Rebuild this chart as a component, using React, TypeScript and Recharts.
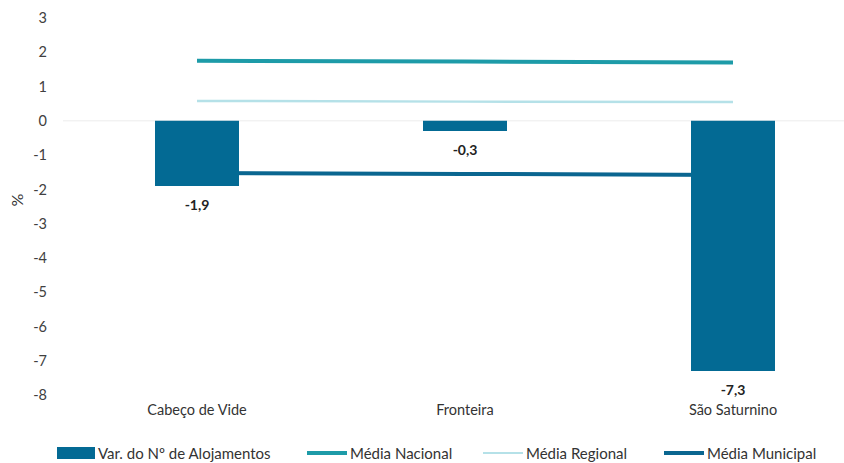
import React from 'react'
import {
  ComposedChart,
  Bar,
  Line,
  XAxis,
  YAxis,
  ReferenceLine,
  Legend,
  LabelList,
} from 'recharts'

const categories = ['Cabeço de Vide', 'Fronteira', 'São Saturnino']
const varAlojamentos = [-1.9, -0.3, -7.3]
const mediaNacional = [1.75, 1.73, 1.7]
const mediaRegional = [0.58, 0.56, 0.55]
const mediaMunicipal = [-1.52, -1.55, -1.58]
const yTicks = [-8, -7, -6, -5, -4, -3, -2, -1, 0, 1, 2, 3]

const FONT = 'Lato, "Open Sans", sans-serif'

const SERIES = [
  { key: 'var', name: 'Var. do Nº de Alojamentos', color: '#036a94', type: 'rect', left: 57 },
  { key: 'nac', name: 'Média Nacional', color: '#1d9ba8', type: 'line', width: 4, left: 307 },
  { key: 'reg', name: 'Média Regional', color: '#b5e1e8', type: 'line', width: 2, left: 483 },
  { key: 'mun', name: 'Média Municipal', color: '#0a6690', type: 'line', width: 4, left: 664 },
]

const data = categories.map((c, i) => ({
  name: c,
  var: varAlojamentos[i],
  nac: mediaNacional[i],
  reg: mediaRegional[i],
  mun: mediaMunicipal[i],
}))

const fmt = (v: any) => String(v).replace('.', ',')

const LegendContent = () => (
  <div style={{ position: 'relative', height: 20, fontFamily: FONT, fontSize: 15, color: '#333' }}>
    {SERIES.map((s) => (
      <div
        key={s.key}
        style={{ position: 'absolute', left: s.left, top: 0, height: 20, display: 'flex', alignItems: 'center', whiteSpace: 'nowrap' }}
      >
        {s.type === 'rect' ? (
          <div style={{ width: 38, height: 12, background: s.color, marginRight: 3 }} />
        ) : (
          <div style={{ width: 40, height: s.width, background: s.color, marginRight: 3 }} />
        )}
        <span>{s.name}</span>
      </div>
    ))}
  </div>
)

const BarLabel = (props: any) => {
  const { x, y, width, height, value } = props
  const bottom = Math.max(y, y + height)
  return (
    <text
      x={x + width / 2}
      y={bottom + 14}
      dy="0.71em"
      textAnchor="middle"
      fill="#222"
      fontSize={14}
      fontWeight={700}
      fontFamily={FONT}
    >
      {fmt(value)}
    </text>
  )
}

export default function App() {
  const barProps: any = { zIndex: 500 }
  return (
    <div
      style={{
        position: 'absolute',
        top: 0,
        left: 0,
        width: 844,
        height: 463,
        overflow: 'hidden',
        background: '#fff',
      }}
    >
      <ComposedChart
        width={870}
        height={463}
        data={data}
        margin={{ top: 18, right: 3, left: 0, bottom: 0 }}
      >
        <XAxis
          dataKey="name"
          axisLine={false}
          tickLine={false}
          tickSize={0}
          tickMargin={10}
          height={48}
          interval={0}
          tick={{ fill: '#333', fontSize: 14.5, fontFamily: FONT }}
        />
        <YAxis
          domain={[-8, 3]}
          ticks={yTicks}
          width={63}
          axisLine={false}
          tickLine={false}
          tickSize={0}
          tickMargin={16}
          tick={{ fill: '#404040', fontSize: 14.5, fontFamily: FONT }}
          label={{
            value: '%',
            angle: -90,
            position: 'insideLeft',
            offset: 17,
            style: { fill: '#333', fontSize: 16, fontFamily: FONT },
          }}
        />
        <ReferenceLine y={0} stroke="#ececec" strokeWidth={1} />
        <Line
          dataKey="nac"
          name={SERIES[1].name}
          stroke={SERIES[1].color}
          strokeWidth={4}
          dot={false}
          type="linear"
          isAnimationActive={false}
        />
        <Line
          dataKey="reg"
          name={SERIES[2].name}
          stroke={SERIES[2].color}
          strokeWidth={2.5}
          dot={false}
          type="linear"
          isAnimationActive={false}
        />
        <Line
          dataKey="mun"
          name={SERIES[3].name}
          stroke={SERIES[3].color}
          strokeWidth={4}
          dot={false}
          type="linear"
          isAnimationActive={false}
        />
        <Bar
          dataKey="var"
          name={SERIES[0].name}
          fill={SERIES[0].color}
          barSize={84}
          isAnimationActive={false}
          {...barProps}
        >
          <LabelList dataKey="var" content={<BarLabel />} />
        </Bar>
        <Legend verticalAlign="bottom" height={20} content={<LegendContent />} />
      </ComposedChart>
    </div>
  )
}
